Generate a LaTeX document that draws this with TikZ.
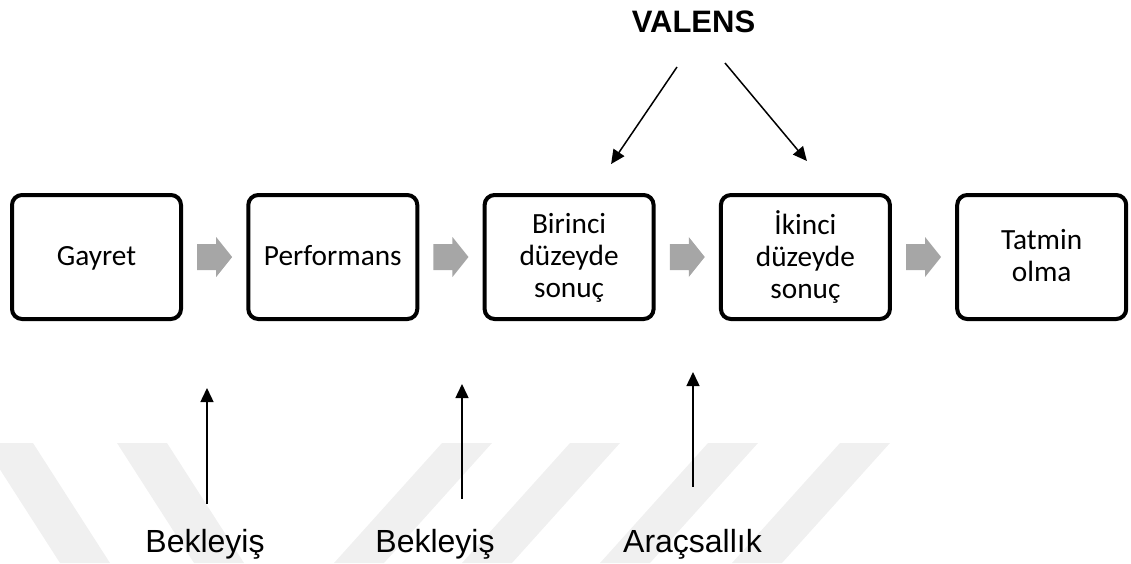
\documentclass[tikz,border=0pt]{standalone}
\usepackage{fontspec}
\setmainfont{Carlito}
\newfontfamily\arialfont{Liberation Sans}
\usetikzlibrary{arrows.meta,calc,positioning}
\definecolor{flowgray}{HTML}{A6A6A6}
\definecolor{markgray}{HTML}{F0F0F0}
\newcommand\ls{\rule[-5pt]{0pt}{26pt}}
\tikzset{pin/.style={-{Triangle[length=14pt,width=13pt]}, line width=1.5pt},
  stage/.style={draw, line width=4pt, rounded corners=10pt, minimum width=169pt, minimum height=124pt,
    inner sep=0pt, align=center, font=\fontsize{29.3}{32}\selectfont},
  cue/.style={anchor=base, inner sep=0pt, font=\arialfont\fontsize{32}{36}\selectfont}}

\begin{document}
\begin{tikzpicture}[x=1pt, y=-1pt]
  \useasboundingbox (0,0) rectangle (1131,563);
  % watermark stripes
  \foreach \xa/\dx in {-17/77, 117/77, 442/-108, 570/-108, 708/-108, 840/-108}
    \fill[markgray] (\xa,443) -- ++(50,0) -- ++(\dx,120) -- ++(-50,0) -- cycle;
  % chain of stages
  \node[stage] (b1) at (96.5,257) {\ls Gayret};
  \node[stage, right=63.3pt of b1] (b2) {\ls Performans};
  \node[stage, right=63.3pt of b2] (b3) {\ls Birinci\\\ls düzeyde\\\ls sonuç};
  \node[stage, right=63.3pt of b3] (b4) {\ls İkinci\\\ls düzeyde\\\ls sonuç};
  \node[stage, right=63.3pt of b4] (b5) {\ls Tatmin\\\ls olma};
  % block arrows
  \foreach \a/\b in {b1/b2, b2/b3, b3/b4, b4/b5}
    \fill[flowgray] ($(\a.east)!0.5!(\b.west)$) ++(-17.5,-13) -- ++(19,0) -- ++(0,-7)
      -- ++(16,20) -- ++(-16,20) -- ++(0,-7) -- ++(-19,0) -- cycle;
  % valence
  \node[cue, font=\arialfont\bfseries\fontsize{31}{36}\selectfont] (valens) at (693.5,32) {VALENS};
  \coordinate (vl) at ($(b3.north)+(42,-29)$);
  \coordinate (vr) at ($(b4.north)+(1.5,-32)$);
  \draw[pin] ($(valens.base)+(-16.5,35)$) -- (vl);
  \draw[pin] ($(valens.base)+(31.5,31)$) -- (vr);
  % expectancies
  \node[cue] (l1) at (205,552) {Bekleyiş};
  \node[cue] (l2) at (435,552) {Bekleyiş};
  \node[cue] (l3) at (692.5,552) {Araçsallık};
  \coordinate (t1) at (207,388);
  \coordinate (t2) at (462,384);
  \coordinate (t3) at (693,372);
  \draw[pin] ([yshift=25pt]l1.north -| t1) -- (t1);
  \draw[pin] ([yshift=30pt]l2.north -| t2) -- (t2);
  \draw[pin] ([yshift=42pt]l3.north -| t3) -- (t3);
\end{tikzpicture}
\end{document}
